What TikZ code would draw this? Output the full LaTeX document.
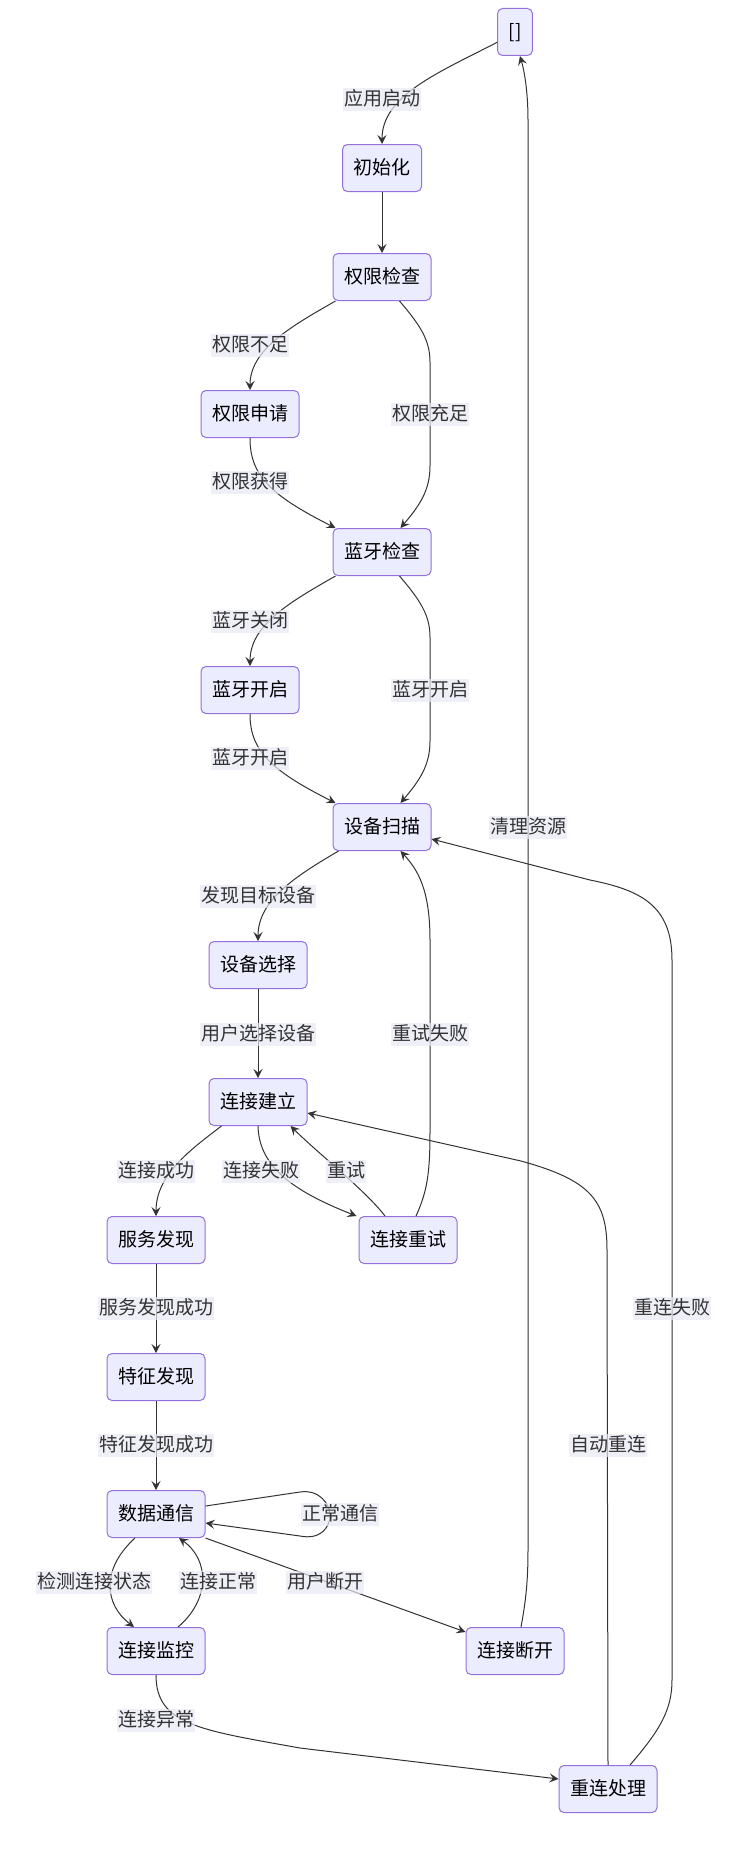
\documentclass[tikz,border=0pt]{standalone}
\usepackage{fontspec}
\usepackage{tikz}
\usetikzlibrary{arrows.meta}
\newfontfamily\cjk{Noto Sans CJK SC}
\definecolor{statefill}{HTML}{ECECFF}
\definecolor{statedraw}{HTML}{9370DB}
\definecolor{edgecol}{HTML}{333333}
\definecolor{lblfill}{HTML}{E9E9F6}

\tikzset{
	state/.style={draw=statedraw, fill=statefill, rounded corners=5pt, line width=1pt,
		font={\cjk\fontsize{19}{23}\selectfont}, text=black,
		text height=16pt, text depth=3pt, inner xsep=11pt, inner ysep=14pt},
	lbl/.style={fill=lblfill, fill opacity=0.7, text opacity=1, text=edgecol,
		font={\cjk\fontsize{19}{23}\selectfont},
		text height=16pt, text depth=3pt, inner xsep=1pt, inner ysep=2pt},
	trans/.style={draw=edgecol, line width=1pt, -{Stealth[length=9pt,width=9pt,inset=3.5pt]}},
}

\begin{document}
\begin{tikzpicture}[x=1pt, y=-1pt]
	\useasboundingbox[fill=white] (0,0) rectangle (740,1852);

	% states
	\node[state] (start) at (515,32) {[]} ; %
	\node[state] (init) at (382,168) {初始化};
	\node[state] (perm) at (382,277) {权限检查};
	\node[state] (permreq) at (250,414) {权限申请};
	\node[state] (btcheck) at (382,552) {蓝牙检查};
	\node[state] (bton) at (250,690) {蓝牙开启};
	\node[state] (scan) at (382,827) {设备扫描};
	\node[state] (select) at (258,965) {设备选择};
	\node[state] (connect) at (258,1102) {连接建立};
	\node[state] (service) at (156,1240) {服务发现};
	\node[state] (retry) at (408,1240) {连接重试};
	\node[state] (feature) at (156,1377) {特征发现};
	\node[state] (data) at (156,1514) {数据通信};
	\node[state] (monitor) at (156,1651) {连接监控};
	\node[state] (disconn) at (515,1651) {连接断开};
	\node[state] (reconn) at (608,1789) {重连处理};

	% transitions
	\draw[trans] (start.210) .. controls (440,72) and (382,95) .. (init.north);
	\draw[trans] (init) -- (perm);
	\draw[trans] ([xshift=3pt]perm.south west) .. controls (290,327) and (250,350) .. (permreq.north);
	\draw[trans] ([xshift=-32pt]perm.south east) .. controls (420,325) and (430,340) .. (430,362)
		-- (430,466) .. controls (430,490) and (420,505) .. ([xshift=-31pt]btcheck.north east);
	\draw[trans] (permreq.south) .. controls (250,475) and (270,495) .. ([xshift=3pt]btcheck.north west);
	\draw[trans] ([xshift=3pt]btcheck.south west) .. controls (290,602) and (250,625) .. (bton.north);
	\draw[trans] ([xshift=-32pt]btcheck.south east) .. controls (420,600) and (430,615) .. (430,637)
		-- (430,741) .. controls (430,765) and (420,780) .. ([xshift=-31pt]scan.north east);
	\draw[trans] (bton.south) .. controls (250,750) and (270,770) .. ([xshift=3pt]scan.north west);
	\draw[trans] ([xshift=6pt]scan.south west) .. controls (296,876) and (258,900) .. (select.north);
	\draw[trans] (select) -- (connect);
	\draw[trans] ([xshift=13pt]connect.south west) .. controls (190,1150) and (156,1175) .. (service.north);
	\draw[trans] (connect.south) .. controls (259,1165) and (290,1190) .. ([xshift=-2pt]retry.north west);
	\draw[trans] ([xshift=-23pt]retry.north) .. controls (365,1190) and (320,1155) .. ([xshift=-17pt]connect.south east);
	\draw[trans] ([xshift=8pt]retry.north) .. controls (428,1190) and (430,1170) .. (430,1130)
		-- (430,940) .. controls (430,890) and (418,870) .. ([xshift=-31pt]scan.south east);
	\draw[trans] (service) -- (feature);
	\draw[trans] (feature) -- (data);
	\draw[trans] ([yshift=8pt]data.east) -- (300,1492) .. controls (320,1489) and (330,1505) .. (330,1515)
		.. controls (330,1528) and (320,1540) .. (300,1536) -- ([yshift=-9pt]data.east);
	\draw[trans] ([xshift=-21pt]data.south) .. controls (100,1570) and (105,1605) .. ([xshift=-22pt]monitor.north);
	\draw[trans] ([xshift=22pt]monitor.north) .. controls (210,1600) and (210,1560) .. ([xshift=23pt]data.south);
	\draw[trans] (data.south east) -- ([yshift=-5pt]disconn.north west);
	\draw[trans] ([xshift=6pt]disconn.north) .. controls (526,1600) and (528,1580) .. (528,1550)
		-- (528,120) .. controls (528,90) and (524,70) .. ([xshift=5pt]start.south);
	\draw[trans] (monitor.south) .. controls (156,1725) and (200,1730) .. (300,1748) -- ([yshift=10pt]reconn.west);
	\draw[trans] (reconn.north) -- (607,1250) .. controls (607,1200) and (590,1180) .. (521,1161)
		-- ([yshift=-11pt]connect.east);
	\draw[trans] ([xshift=22pt]reconn.north) .. controls (660,1730) and (672,1710) .. (672,1680)
		-- (672,960) .. controls (672,905) and (640,890) .. (590,880) -- ([yshift=-12pt]scan.east);

	% labels
	\node[lbl] (lstart) at (382,99) {应用启动};
	\node[lbl] (llack) at (250,345) {权限不足};
	\node[lbl] (lenough) at (430,414) {权限充足};
	\node[lbl] (lgrant) at (250,482) {权限获得};
	\node[lbl] (lbtoff) at (250,621) {蓝牙关闭};
	\node[lbl] (lbton) at (430,690) {蓝牙开启};
	\node[lbl] (lbtup) at (250,758) {蓝牙开启};
	\node[lbl] (lclean) at (528,827) {清理资源};
	\node[lbl] (lfound) at (258,896) {发现目标设备};
	\node[lbl] (lpick) at (258,1034) {用户选择设备};
	\node[lbl] (lretryfail) at (430,1034) {重试失败};
	\node[lbl] (lconnok) at (156,1171) {连接成功};
	\node[lbl] (lconnfail) at (261,1171) {连接失败};
	\node[lbl] (lretry) at (346,1171) {重试};
	\node[lbl] (lservice) at (156,1308) {服务发现成功};
	\node[lbl] (lrecfail) at (672,1308) {重连失败};
	\node[lbl] (lfeature) at (156,1445) {特征发现成功};
	\node[lbl] (lauto) at (608,1445) {自动重连};
	\node[lbl] (lnormal) at (340,1514) {正常通信};
	\node[lbl] (ldetect) at (94,1582) {检测连接状态};
	\node[lbl] (lfine) at (218,1582) {连接正常};
	\node[lbl] (luser) at (325,1582) {用户断开};
	\node[lbl] (labnormal) at (156,1720) {连接异常};
\end{tikzpicture}
\end{document}
